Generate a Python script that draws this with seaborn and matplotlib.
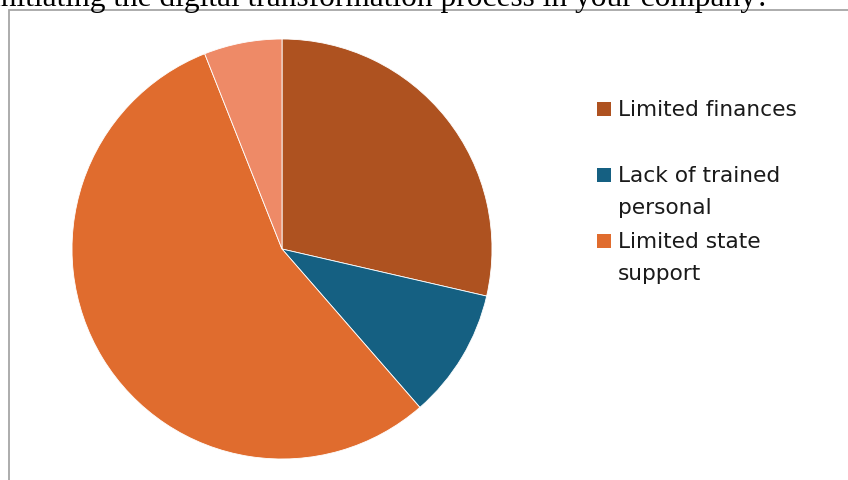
import matplotlib
matplotlib.use("Agg")
import matplotlib.pyplot as plt
import seaborn as sns
from matplotlib.patches import Rectangle

categories = ["Limited finances", "Lack of trained\npersonal", "Limited state\nsupport", ""]
values = [28.6, 10.0, 55.4, 6.0]
colors = ["#AE5220", "#156082", "#E06C2E", "#EE8A67"]
title_text = "initiating the digital transformation process in your company?"

sns.set_theme(style="white")
plt.rcParams['font.family'] = ['DejaVu Sans']

W, H = 848, 480
fig = plt.figure(figsize=(W / 100, H / 100), dpi=100)
fig.patch.set_facecolor("white")

# chart frame (extends past right/bottom edges)
fig.patches.append(Rectangle((9 / W, -0.1), 1.2, (H - 10) / H + 0.1, transform=fig.transFigure,
                             fill=False, edgecolor="#A6A6A6", linewidth=1.3, zorder=0))

# clipped document title above the chart
fig.text(770 / W, 1 - 6 / H, title_text, ha="right", va="baseline",
         family="Liberation Serif", fontsize=22.6, color="black")

cx, cy, r = 282, 249, 210
ax = fig.add_axes([(cx - r) / W, (H - cy - r) / H, 2 * r / W, 2 * r / H])
ax.pie(values, colors=colors, startangle=90, counterclock=False, radius=1,
       wedgeprops=dict(linewidth=0.6, edgecolor="white"))
ax.set_xlim(-1, 1)
ax.set_ylim(-1, 1)
ax.set_aspect("auto")
ax.axis("off")

# legend (manual, matching the layout)
legend_baseline = [116, 182, 248]
line_step = 32
for lab, col, yb in zip(categories, colors, legend_baseline):
    if not lab:
        continue
    fig.patches.append(Rectangle((597 / W, 1 - yb / H), 14 / W, 14.5 / H,
                                 transform=fig.transFigure, facecolor=col, edgecolor="none"))
    for i, line in enumerate(lab.split("\n")):
        fig.text(618 / W, 1 - (yb + i * line_step) / H, line, ha="left", va="baseline",
                 fontsize=15.6, color="#1A1A1A")

fig.savefig("out.png", dpi=100)
